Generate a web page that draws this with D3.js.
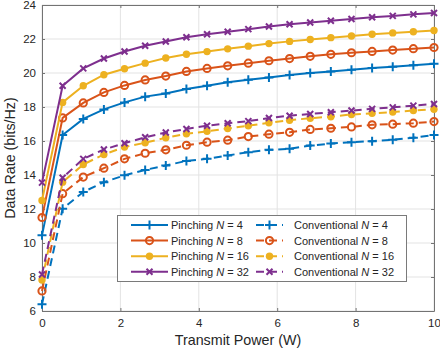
<!doctype html>
<html>
<head>
<meta charset="utf-8">
<title>Data Rate vs Transmit Power</title>
<script src="https://d3js.org/d3.v7.min.js"></script>
<style>
  body { margin: 0; background: #fff; }
  svg { display: block; font-family: "Liberation Sans", Arial, sans-serif; }
</style>
</head>
<body>
<svg width="440" height="353"></svg>
<script>
// transmit power samples (20 points from 0 to 10 W)
var power = d3.range(20).map(function(i) { return i * 10 / 19; });

var pinch4  = [10.45, 16.35, 17.3, 17.86, 18.27, 18.61, 18.8, 19.06, 19.25, 19.45, 19.6, 19.74, 19.88, 20.0, 20.09, 20.19, 20.29, 20.37, 20.45, 20.54];
var pinch8  = [11.5, 17.36, 18.24, 18.86, 19.27, 19.59, 19.82, 20.09, 20.27, 20.42, 20.58, 20.72, 20.85, 20.98, 21.1, 21.19, 21.27, 21.35, 21.43, 21.5];
var pinch16 = [12.5, 18.27, 19.25, 19.9, 20.25, 20.58, 20.88, 21.1, 21.26, 21.42, 21.58, 21.73, 21.86, 21.97, 22.08, 22.18, 22.28, 22.36, 22.43, 22.5];
var pinch32 = [13.55, 19.25, 20.27, 20.85, 21.26, 21.6, 21.85, 22.1, 22.28, 22.43, 22.58, 22.74, 22.87, 22.97, 23.07, 23.18, 23.28, 23.36, 23.45, 23.53];
var conv4   = [6.4, 12.02, 13.0, 13.58, 13.98, 14.3, 14.56, 14.83, 14.95, 15.15, 15.34, 15.48, 15.54, 15.73, 15.85, 15.93, 15.99, 16.07, 16.19, 16.35];
var conv8   = [7.18, 12.9, 13.88, 14.4, 14.95, 15.28, 15.48, 15.75, 15.93, 16.05, 16.26, 16.4, 16.51, 16.68, 16.75, 16.83, 16.95, 16.99, 17.05, 17.14];
var conv16  = [7.82, 13.58, 14.62, 15.21, 15.64, 15.9, 16.19, 16.42, 16.57, 16.73, 16.9, 17.07, 17.22, 17.34, 17.43, 17.56, 17.63, 17.7, 17.79, 17.87];
var conv32  = [8.15, 13.84, 14.95, 15.5, 15.87, 16.22, 16.5, 16.71, 16.9, 17.04, 17.17, 17.35, 17.49, 17.59, 17.69, 17.79, 17.89, 17.98, 18.08, 18.18];

var xTicks = [0, 2, 4, 6, 8, 10];
var yTicks = [6, 8, 10, 12, 14, 16, 18, 20, 22, 24];

// plotting order follows the legend (row-wise)
var series = [
  { name: "Pinching", n: "4",  values: pinch4,  color: "#0072BD", marker: "plus",   dashed: false },
  { name: "Conventional", n: "4",  values: conv4,   color: "#0072BD", marker: "plus",   dashed: true },
  { name: "Pinching", n: "8",  values: pinch8,  color: "#D95319", marker: "circle", dashed: false },
  { name: "Conventional", n: "8",  values: conv8,   color: "#D95319", marker: "circle", dashed: true },
  { name: "Pinching", n: "16", values: pinch16, color: "#EDB120", marker: "dot",    dashed: false },
  { name: "Conventional", n: "16", values: conv16,  color: "#EDB120", marker: "dot",    dashed: true },
  { name: "Pinching", n: "32", values: pinch32, color: "#7E2F8E", marker: "cross",  dashed: false },
  { name: "Conventional", n: "32", values: conv32,  color: "#7E2F8E", marker: "cross",  dashed: true }
];

var svg = d3.select("svg");
var plotL = 42, plotR = 434, plotT = 5, plotB = 311;

var x = d3.scaleLinear().domain([0, 10]).range([plotL, plotR]);
var y = d3.scaleLinear().domain([6, 24]).range([plotB, plotT]);

// grid
var grid = svg.append("g");
grid.selectAll(".gx").data(xTicks).enter().append("line")
  .attr("x1", function(d) { return x(d); }).attr("x2", function(d) { return x(d); })
  .attr("y1", plotT).attr("y2", plotB)
  .attr("stroke", "#e3e3e3").attr("stroke-width", 1);
grid.selectAll(".gy").data(yTicks).enter().append("line")
  .attr("x1", plotL).attr("x2", plotR)
  .attr("y1", function(d) { return y(d); }).attr("y2", function(d) { return y(d); })
  .attr("stroke", "#e3e3e3").attr("stroke-width", 1);

// axes (MATLAB style, inward ticks, box)
var axisColor = "#737373";
svg.append("g").attr("transform", "translate(0," + plotB + ")")
  .call(d3.axisBottom(x).tickValues(xTicks).tickSizeInner(-3).tickSizeOuter(0).tickPadding(8));
svg.append("g").attr("transform", "translate(" + plotL + ",0)")
  .call(d3.axisLeft(y).tickValues(yTicks).tickSizeInner(-3).tickSizeOuter(0).tickPadding(6));
svg.append("g").attr("transform", "translate(0," + plotT + ")")
  .call(d3.axisTop(x).tickValues(xTicks).tickSizeInner(-3).tickSizeOuter(0).tickFormat(""));
svg.append("g").attr("transform", "translate(" + plotR + ",0)")
  .call(d3.axisRight(y).tickValues(yTicks).tickSizeInner(-3).tickSizeOuter(0).tickFormat(""));

svg.selectAll(".domain").attr("stroke", axisColor);
svg.selectAll(".tick line").attr("stroke", axisColor);
svg.selectAll(".tick text").attr("fill", "#262626").attr("font-size", "11.5px")
  .attr("font-family", "Liberation Sans, Arial, sans-serif");

// axis labels
svg.append("text")
  .attr("x", (plotL + plotR) / 2).attr("y", 345)
  .attr("text-anchor", "middle").attr("font-size", "14.3px").attr("fill", "#262626")
  .text("Transmit Power (W)");
svg.append("text")
  .attr("transform", "translate(15," + (plotT + plotB) / 2 + ") rotate(-90)")
  .attr("text-anchor", "middle").attr("font-size", "14.3px").attr("fill", "#262626")
  .text("Data Rate (bits/Hz)");

function drawMarker(g, type, color) {
  if (type === "plus") {
    g.append("path").attr("d", "M-4.5,0H4.5M0,-4.5V4.5")
      .attr("stroke", color).attr("stroke-width", 2).attr("fill", "none");
  } else if (type === "cross") {
    g.append("path").attr("d", "M-3,-3L3,3M-3,3L3,-3")
      .attr("stroke", color).attr("stroke-width", 2).attr("fill", "none");
  } else if (type === "circle") {
    g.append("circle").attr("r", 3.6)
      .attr("stroke", color).attr("stroke-width", 2).attr("fill", "none");
  } else {
    g.append("circle").attr("r", 3.7).attr("fill", color);
  }
}

var line = d3.line()
  .x(function(d) { return x(d[0]); })
  .y(function(d) { return y(d[1]); });

series.forEach(function(s) {
  var pts = power.map(function(p, i) { return [p, s.values[i]]; });
  var g = svg.append("g");
  g.append("path")
    .attr("d", line(pts))
    .attr("fill", "none")
    .attr("stroke", s.color)
    .attr("stroke-width", 2)
    .attr("stroke-dasharray", s.dashed ? "8,5" : null);
  pts.forEach(function(d) {
    var m = g.append("g").attr("transform", "translate(" + x(d[0]) + "," + y(d[1]) + ")");
    drawMarker(m, s.marker, s.color);
  });
});

// legend
var leg = svg.append("g");
leg.append("rect")
  .attr("x", 117.5).attr("y", 215.5).attr("width", 289).attr("height", 66)
  .attr("fill", "#fff").attr("stroke", "#7a7a7a").attr("stroke-width", 1);

series.forEach(function(s, i) {
  var col = i % 2, row = Math.floor(i / 2);
  var ly = 225 + row * 15.6;
  var x0 = col === 0 ? 131 : 256;
  var x1 = col === 0 ? 168 : 283;
  var tx = col === 0 ? 171 : 294;
  leg.append("line")
    .attr("x1", x0).attr("x2", x1).attr("y1", ly).attr("y2", ly)
    .attr("stroke", s.color).attr("stroke-width", 2)
    .attr("stroke-dasharray", s.dashed ? "8,5" : null);
  var m = leg.append("g").attr("transform", "translate(" + (x0 + x1) / 2 + "," + ly + ")");
  drawMarker(m, s.marker, s.color);
  var t = leg.append("text").attr("x", tx).attr("y", ly + 4)
    .attr("font-size", "11px").attr("fill", "#262626");
  t.append("tspan").text(s.name + " ");
  t.append("tspan").attr("font-style", "italic").text("N");
  t.append("tspan").text(" = " + s.n);
});
</script>
</body>
</html>
